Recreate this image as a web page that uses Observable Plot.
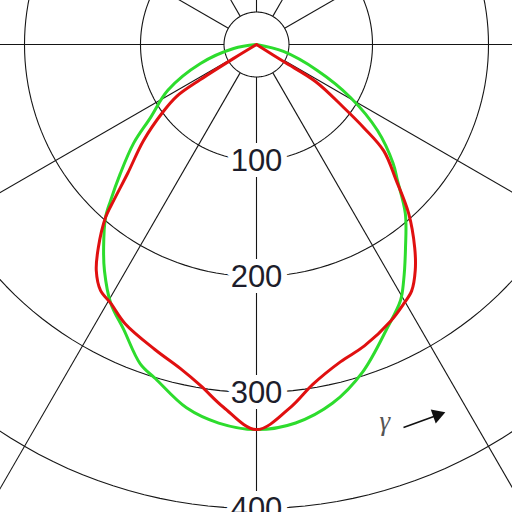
<!DOCTYPE html>
<html>
<head>
<meta charset="utf-8">
<script src="https://cdn.jsdelivr.net/npm/d3@7"></script>
<script src="https://cdn.jsdelivr.net/npm/@observablehq/plot@0.6"></script>
<style>
  html, body { margin: 0; padding: 0; background: #fff; }
  #chart { width: 512px; height: 512px; overflow: hidden; }
  #chart svg { overflow: hidden; display: block; }
</style>
</head>
<body>
<div id="chart"></div>
<script>
// ---- data (polar: gamma angle in degrees, 0 = straight down, negative = left; intensity in cd/klm) ----
const redAngle = [-58, -58.7, -58.0, -57.0, -54.1, -49.6, -45.0, -42.5, -41.1, -37.9, -35.3, -32.4, -29.4, -25.2, -18.5, -13.2, -9.3, -5.2, 0, 5.4, 9.4, 14.8, 19.7, 25.9, 29.6, 32.2, 35.1, 37.9, 42.0, 45.8, 50.1, 52.2, 54.1, 57.9, 57.8, 58];
const redIntensity = [0, 23, 57, 82, 100, 128, 157, 182, 198, 222, 239, 251, 256, 266, 277, 287, 298, 314, 332, 314, 297, 283, 276, 265, 257, 251, 238, 222, 196, 168, 143, 117, 93, 60, 28, 0];

const greenAngle = [-85, -80.1, -71.3, -62.7, -55.4, -51.2, -46.5, -43.1, -41.1, -37.0, -33.9, -29.4, -25.0, -20.0, -16.8, -10.9, -5.7, 0, 5.9, 12.0, 17.9, 24.8, 29.4, 31.9, 36.3, 41.4, 46.0, 49.0, 54.6, 60.6, 66.9, 75.5, 85];
const greenIntensity = [0, 20, 51, 86, 111, 136, 162, 184, 198, 219, 235, 256, 271, 293, 301, 319, 328, 332, 328, 316, 297, 269, 253, 240, 217, 194, 169, 156, 128, 93, 57, 24, 0];

const ringValues = [100, 200, 300, 400, 500];
const ringLabels = [100, 200, 300, 400];
const innerRing = 28;
const spokeAngles = [0, 30, 60, 90, 120, 150, 180, 210, 240, 270, 300, 330];

// annotation (polar positions)
const gammaLabelPos = [18.8, 343];
const arrowStart = [21.0, 353.6];
const arrowEnd = [26.0, 355.5];
const arrowTip = [26.2, 355.8];

// ---- geometry helpers ----
const rad = Math.PI / 180;
const px = (a, r) => r * Math.sin(a * rad);
const py = (a, r) => r * Math.cos(a * rad);
const k = 1.16; // px per unit

const redPts = redAngle.map((a, i) => ({x: px(a, redIntensity[i]), y: py(a, redIntensity[i])}));
const greenPts = greenAngle.map((a, i) => ({x: px(a, greenIntensity[i]), y: py(a, greenIntensity[i])}));

const circle = (r, id) => d3.range(0, 361, 2).map(t => ({x: px(t, r), y: py(t, r), id}));
const ringPts = [...ringValues, innerRing].flatMap(r => circle(r, r));
const spokes = spokeAngles.map(a => ({x1: px(a, innerRing), y1: py(a, innerRing), x2: px(a, 700), y2: py(a, 700)}));

const labels = ringLabels.map(v => ({x: 0, y: v, t: String(v)}));

const ax = px(...arrowStart), ay = py(...arrowStart);
const bx = px(...arrowEnd), by = py(...arrowEnd);
const tx = px(...arrowTip), ty = py(...arrowTip);
const dirDeg = Math.atan2((ty - ay), (tx - ax)) / rad;
const headRotate = 90 + dirDeg;

const chart = Plot.plot({
  width: 512,
  height: 512,
  margin: 0,
  style: {background: "#fff", overflow: "hidden"},
  x: {domain: [-256 / k, 256 / k], range: [0, 512], axis: null},
  y: {domain: [-44 / k, 468 / k], range: [0, 512], axis: null},
  marks: [
    Plot.line(ringPts, {x: "x", y: "y", z: "id", stroke: "#151515", strokeWidth: 1.1}),
    Plot.link(spokes, {x1: "x1", y1: "y1", x2: "x2", y2: "y2", stroke: "#151515", strokeWidth: 1.1}),
    Plot.text(labels, {x: "x", y: "y", text: "t", fontSize: 31, fontFamily: "Liberation Sans, Arial, sans-serif",
      fill: "#1d1d2b", stroke: "white", strokeWidth: 12, paintOrder: "stroke", dy: 1}),
    Plot.line(greenPts, {x: "x", y: "y", stroke: "#2ddc2d", strokeWidth: 3, strokeLinejoin: "round", curve: "catmull-rom"}),
    Plot.line(redPts, {x: "x", y: "y", stroke: "#e01010", strokeWidth: 3, strokeLinejoin: "round", curve: "catmull-rom"}),
    Plot.text([gammaLabelPos], {x: d => px(d[0], d[1]), y: d => py(d[0], d[1]), text: () => "γ",
      fontSize: 27, fontStyle: "italic", fontFamily: "Liberation Serif, Times New Roman, serif", fill: "#555"}),
    Plot.link([0], {x1: ax, y1: ay, x2: bx, y2: by, stroke: "#111", strokeWidth: 1.6}),
    Plot.dot([0], {x: bx, y: by, symbol: "triangle", r: 5.5, fill: "#111", stroke: "none", rotate: headRotate})
  ]
});
document.getElementById("chart").append(chart);
</script>
</body>
</html>
